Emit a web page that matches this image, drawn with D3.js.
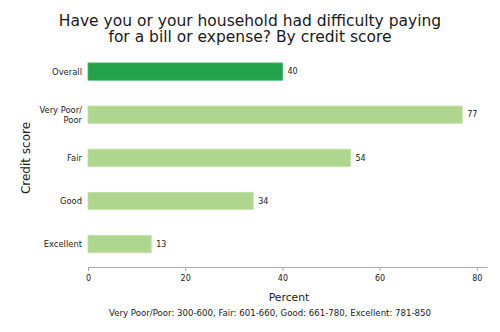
<!DOCTYPE html>
<html><head><meta charset="utf-8">
<script src="https://cdn.jsdelivr.net/npm/d3@7"></script>
<style>body{margin:0;background:#fff}svg{display:block;font-family:"DejaVu Sans",sans-serif}</style>
</head><body><svg id="c" width="500" height="332"></svg>
<script>
const categories = ["Overall", "Very Poor/\nPoor", "Fair", "Good", "Excellent"];
const values = [40, 77, 54, 34, 13];
const highlight = [true, false, false, false, false];
const xTicks = [0, 20, 40, 60, 80];
const titleLines = ["Have you or your household had difficulty paying", "for a bill or expense? By credit score"];
const xLabel = "Percent";
const yLabel = "Credit score";
const footnote = "Very Poor/Poor: 300-600, Fair: 601-660, Good: 661-780, Excellent: 781-850";

const svg = d3.select("#c");
const x = d3.scaleLinear().domain([0, 82.1]).range([88, 487]);
const y = d3.scaleBand().domain(categories).range([50, 265.6]).paddingInner(0.6).paddingOuter(0.3);

svg.append("g").selectAll("text").data(titleLines).join("text")
  .attr("x", 250).attr("y", (d,i)=>25.5+i*16.5).attr("text-anchor","middle")
  .attr("font-size", 15.5).attr("fill","#1a1a1a").text(d=>d);

svg.append("g").selectAll("rect").data(values).join("rect")
  .attr("x", x(0)).attr("y", (d,i)=>y(categories[i]))
  .attr("width", d=>x(d)-x(0)).attr("height", y.bandwidth())
  .attr("fill", (d,i)=>highlight[i] ? "#22a34b" : "#aed68f")
  .attr("stroke", (d,i)=>highlight[i] ? "#3eb463" : "#c0e0a6").attr("stroke-width", 0.8);

svg.append("g").selectAll("text").data(values).join("text")
  .attr("x", d=>x(d)+5).attr("y", (d,i)=>y(categories[i])+y.bandwidth()/2)
  .attr("dy","0.35em").attr("font-size", 8).attr("fill","#222").text(d=>d);

// category labels
const cl = svg.append("g");
categories.forEach((c,i)=>{
  const lines = c.split("\n");
  const cy = y(c)+y.bandwidth()/2;
  lines.forEach((ln,j)=>{
    cl.append("text").attr("x", 82).attr("text-anchor","end")
      .attr("y", cy + (j-(lines.length-1)/2)*10).attr("dy","0.35em")
      .attr("font-size", 8.4).attr("fill","#222").text(ln);
  });
});

const ax = svg.append("g").attr("transform","translate(0,267)")
  .call(d3.axisBottom(x).tickValues(xTicks).tickSize(4).tickPadding(4).tickSizeOuter(0));
ax.select(".domain").attr("stroke","#aaa");
ax.selectAll(".tick line").attr("stroke","#aaa").attr("y1",0).attr("y2",4);
ax.selectAll(".tick text").attr("font-size",8).attr("fill","#222").attr("font-family","DejaVu Sans")
  .attr("dy",null).attr("y",14);

svg.append("text").attr("x", 289).attr("y", 301).attr("text-anchor","middle")
  .attr("font-size", 10.8).attr("fill","#1a1a1a").text(xLabel);
svg.append("text").attr("transform","translate(29.5,158) rotate(-90)").attr("text-anchor","middle")
  .attr("font-size", 12).attr("fill","#1a1a1a").text(yLabel);
svg.append("text").attr("x", 270).attr("y", 316).attr("text-anchor","middle")
  .attr("font-size", 8.6).attr("fill","#1a1a1a").text(footnote);
</script></body></html>
